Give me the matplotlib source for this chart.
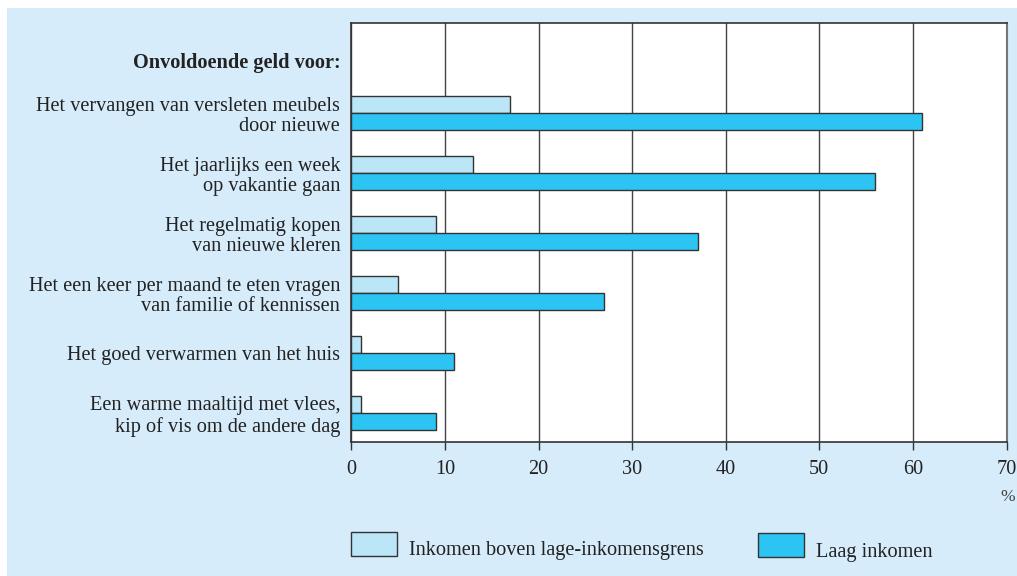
import matplotlib
matplotlib.use("Agg")
import matplotlib.pyplot as plt
from matplotlib.patches import Rectangle
import numpy as np


categories = [
    "Het vervangen van versleten meubels\ndoor nieuwe",
    "Het jaarlijks een week\nop vakantie gaan",
    "Het regelmatig kopen\nvan nieuwe kleren",
    "Het een keer per maand te eten vragen\nvan familie of kennissen",
    "Het goed verwarmen van het huis",
    "Een warme maaltijd met vlees,\nkip of vis om de andere dag",
]
boven_grens = [17, 13, 9, 5, 1, 1]
laag_inkomen = [61, 56, 37, 27, 11, 9]
series_names = ["Inkomen boven lage-inkomensgrens", "Laag inkomen"]
header = "Onvoldoende geld voor:"
x_ticks = [0, 10, 20, 30, 40, 50, 60, 70]

PANEL = "#d6ecfa"
LIGHT = "#bbe6f8"
DARK = "#2cc4f2"
EDGE = "#333333"
FONT = "Liberation Serif"
FS = 14.6

W, H = 1017, 576
fig = plt.figure(figsize=(W / 100, H / 100), dpi=100)
fig.patches.append(Rectangle((7 / W, 0), 1 - 7 / W, 1 - 8 / H,
                             transform=fig.transFigure, facecolor=PANEL,
                             edgecolor="none", zorder=-10))

ax = fig.add_axes([351.3 / W, 1 - 442.3 / H, (1006.5 - 351.3) / W, (442.3 - 22.7) / H])
ax.set_facecolor("white")

y = np.arange(len(categories))
h = 0.283
ax.barh(y - h / 2, boven_grens, height=h, color=LIGHT, edgecolor=EDGE, linewidth=1, zorder=3)
ax.barh(y + h / 2, laag_inkomen, height=h, color=DARK, edgecolor=EDGE, linewidth=1, zorder=3)

ax.set_xlim(0, 70)
ax.set_ylim(5.488, -1.505)
ax.set_xticks(x_ticks)
ax.set_xticklabels([str(t) for t in x_ticks], fontfamily=FONT, fontsize=FS, color="#222222")
ax.tick_params(axis="x", direction="out", length=6, width=1, color="#333333", pad=7)
ax.xaxis.grid(True, color="#444444", linewidth=1, zorder=1)
ax.set_axisbelow(True)

ax.set_yticks(list(y) + [-0.88])
ax.set_yticklabels(categories + [header], fontfamily=FONT, fontsize=FS, color="#222222")
for lbl in ax.get_yticklabels():
    lbl.set_linespacing(1.12)
ax.get_yticklabels()[-1].set_fontweight("bold")
ax.tick_params(axis="y", length=0, pad=8)

for side in ["left", "bottom", "top"]:
    ax.spines[side].set_color("#333333")
    ax.spines[side].set_linewidth(1.2)
ax.spines["right"].set_color("#777777")
ax.spines["right"].set_linewidth(1.5)

fig.text(1015 / W, 1 - 497 / H, "%", ha="right", va="center",
         fontfamily=FONT, fontsize=FS - 2, color="#444444")

# legend drawn by hand, like the original layout
for (x0, x1, y0, y1), color in [((351.3, 397.3, 532.3, 555.7), LIGHT),
                                ((757.7, 804.0, 533.3, 556.7), DARK)]:
    fig.patches.append(Rectangle((x0 / W, 1 - y1 / H), (x1 - x0) / W, (y1 - y0) / H,
                                 transform=fig.transFigure, facecolor=color,
                                 edgecolor=EDGE, linewidth=1))
fig.text(409 / W, 1 - 550 / H, series_names[0], ha="left", va="center",
         fontfamily=FONT, fontsize=FS, color="#222222")
fig.text(815.7 / W, 1 - 552 / H, series_names[1], ha="left", va="center",
         fontfamily=FONT, fontsize=FS, color="#222222")

fig.savefig("out.png", dpi=100)
